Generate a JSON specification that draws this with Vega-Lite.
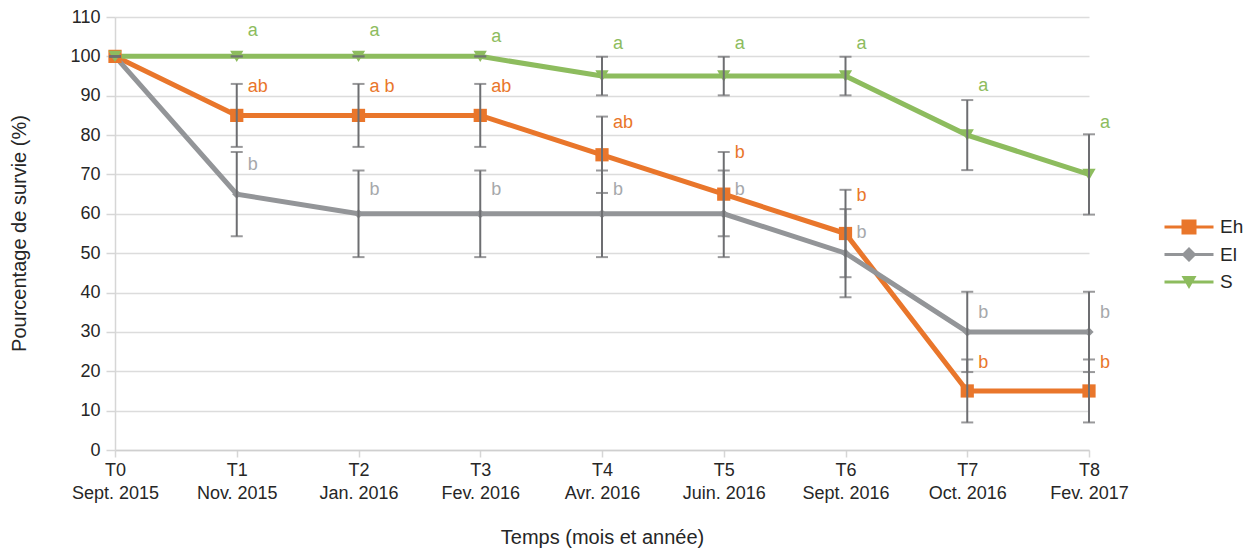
{
  "$schema": "https://vega.github.io/schema/vega-lite/v6.json",
  "width": 974,
  "height": 433,
  "autosize": {"type": "none"},
  "padding": {"left": 115, "top": 17, "right": 162, "bottom": 99},
  "background": "white",
  "config": {
    "view": {"stroke": null},
    "font": "Liberation Sans",
    "axis": {"labelFont": "Liberation Sans", "titleFont": "Liberation Sans", "labelOverlap": false},
    "axisY": {
      "labelFontSize": 18,
      "labelColor": "#262626",
      "labelPadding": 6,
      "tickSize": 9,
      "tickColor": "#d6d6d6",
      "tickWidth": 1.5,
      "domainColor": "#d6d6d6",
      "domainWidth": 1.5,
      "gridColor": "#dcdcdc",
      "gridWidth": 1.5,
      "titleFontSize": 20,
      "titleFontWeight": "normal",
      "titleColor": "#262626",
      "titleX": -96,
      "titleY": 216,
      "titleBaseline": "middle"
    }
  },
  "data": {
    "values": [
      {"t": "T0|Sept. 2015", "series": "Eh", "value": 100, "err": 0, "letter": "", "label_y": null},
      {"t": "T1|Nov. 2015", "series": "Eh", "value": 85, "err": 8, "letter": "ab", "label_y": 92.2},
      {"t": "T2|Jan. 2016", "series": "Eh", "value": 85, "err": 8, "letter": "a b", "label_y": 92.2},
      {"t": "T3|Fev. 2016", "series": "Eh", "value": 85, "err": 8, "letter": "ab", "label_y": 92.2},
      {"t": "T4|Avr. 2016", "series": "Eh", "value": 75, "err": 9.7, "letter": "ab", "label_y": 83.1},
      {"t": "T5|Juin. 2016", "series": "Eh", "value": 65, "err": 10.7, "letter": "b", "label_y": 75.5},
      {"t": "T6|Sept. 2016", "series": "Eh", "value": 55, "err": 11.1, "letter": "b", "label_y": 64.5},
      {"t": "T7|Oct. 2016", "series": "Eh", "value": 15, "err": 8, "letter": "b", "label_y": 22.1},
      {"t": "T8|Fev. 2017", "series": "Eh", "value": 15, "err": 8, "letter": "b", "label_y": 22.1},
      {"t": "T0|Sept. 2015", "series": "El", "value": 100, "err": 0, "letter": "", "label_y": null},
      {"t": "T1|Nov. 2015", "series": "El", "value": 65, "err": 10.7, "letter": "b", "label_y": 72.4},
      {"t": "T2|Jan. 2016", "series": "El", "value": 60, "err": 11, "letter": "b", "label_y": 66.1},
      {"t": "T3|Fev. 2016", "series": "El", "value": 60, "err": 11, "letter": "b", "label_y": 66.1},
      {"t": "T4|Avr. 2016", "series": "El", "value": 60, "err": 11, "letter": "b", "label_y": 66.1},
      {"t": "T5|Juin. 2016", "series": "El", "value": 60, "err": 11, "letter": "b", "label_y": 66.1},
      {"t": "T6|Sept. 2016", "series": "El", "value": 50, "err": 11.2, "letter": "b", "label_y": 55.1},
      {"t": "T7|Oct. 2016", "series": "El", "value": 30, "err": 10.2, "letter": "b", "label_y": 34.8},
      {"t": "T8|Fev. 2017", "series": "El", "value": 30, "err": 10.2, "letter": "b", "label_y": 34.8},
      {"t": "T0|Sept. 2015", "series": "S", "value": 100, "err": 0, "letter": "", "label_y": null},
      {"t": "T1|Nov. 2015", "series": "S", "value": 100, "err": 0, "letter": "a", "label_y": 106.5},
      {"t": "T2|Jan. 2016", "series": "S", "value": 100, "err": 0, "letter": "a", "label_y": 106.5},
      {"t": "T3|Fev. 2016", "series": "S", "value": 100, "err": 0, "letter": "a", "label_y": 104.9},
      {"t": "T4|Avr. 2016", "series": "S", "value": 95, "err": 4.9, "letter": "a", "label_y": 103.2},
      {"t": "T5|Juin. 2016", "series": "S", "value": 95, "err": 4.9, "letter": "a", "label_y": 103.2},
      {"t": "T6|Sept. 2016", "series": "S", "value": 95, "err": 4.9, "letter": "a", "label_y": 103.2},
      {"t": "T7|Oct. 2016", "series": "S", "value": 80, "err": 8.9, "letter": "a", "label_y": 92.5},
      {"t": "T8|Fev. 2017", "series": "S", "value": 70, "err": 10.2, "letter": "a", "label_y": 83.1}
    ]
  },
  "encoding": {
    "x": {
      "field": "t",
      "type": "nominal",
      "scale": {
        "type": "point",
        "padding": 0,
        "domain": ["T0|Sept. 2015", "T1|Nov. 2015", "T2|Jan. 2016", "T3|Fev. 2016", "T4|Avr. 2016", "T5|Juin. 2016", "T6|Sept. 2016", "T7|Oct. 2016", "T8|Fev. 2017"]
      },
      "axis": {
        "title": "Temps (mois et année)",
        "titleFontSize": 20,
        "titleFontWeight": "normal",
        "titleColor": "#262626",
        "titleX": 487,
        "titleY": 87,
        "titleBaseline": "middle",
        "labelExpr": "split(datum.label, '|')",
        "labelAngle": 0,
        "labelFontSize": 18,
        "labelColor": "#262626",
        "labelLineHeight": 23,
        "labelPadding": 4,
        "labelBaseline": "top",
        "tickSize": 7,
        "tickColor": "#d6d6d6",
        "tickWidth": 1.5,
        "domainColor": "#cfcfcf",
        "domainWidth": 1.5,
        "grid": false
      }
    }
  },
  "layer": [
    {
      "transform": [{"filter": "datum.t === 'T0|Sept. 2015'"}],
      "mark": {"type": "point", "filled": true, "opacity": 0},
      "encoding": {
        "y": {
          "field": "value",
          "type": "quantitative",
          "title": "Pourcentage de survie (%)",
          "scale": {"domain": [0, 110], "nice": false, "zero": true},
          "axis": {"values": [0, 10, 20, 30, 40, 50, 60, 70, 80, 90, 100, 110]}
        },
        "shape": {
          "field": "series",
          "type": "nominal",
          "scale": {
            "domain": ["Eh", "El", "S"],
            "range": [
              "M-2.45,-0.15H2.45V0.15H-2.45Z M-0.75,-0.75H0.75V0.75H-0.75Z",
              "M-2.45,-0.15H2.45V0.15H-2.45Z M0,-0.75L0.75,0L0,0.75L-0.75,0Z",
              "M-2.45,-0.15H2.45V0.15H-2.45Z M-0.75,-0.6L0.75,-0.6L0,0.7Z"
            ]
          },
          "legend": {
            "title": null,
            "orient": "none",
            "legendX": 1064,
            "legendY": 200,
            "padding": 0,
            "symbolSize": 400,
            "symbolStrokeWidth": 0,
            "symbolOpacity": 1,
            "labelFontSize": 19,
            "labelFont": "Liberation Sans",
            "labelColor": "#262626",
            "labelOffset": 21,
            "rowPadding": 7.5
          }
        },
        "color": {
          "field": "series",
          "type": "nominal",
          "scale": {"domain": ["Eh", "El", "S"], "range": ["#E9762B", "#939598", "#8DBC5E"]},
          "legend": {
            "title": null,
            "orient": "none",
            "legendX": 1064,
            "legendY": 200,
            "padding": 0,
            "symbolSize": 400,
            "symbolStrokeWidth": 0,
            "symbolOpacity": 1,
            "labelFontSize": 19,
            "labelFont": "Liberation Sans",
            "labelColor": "#262626",
            "labelOffset": 21,
            "rowPadding": 7.5
          }
        }
      }
    },
    {
      "mark": {"type": "line", "strokeWidth": 5},
      "encoding": {
        "y": {"field": "value", "type": "quantitative", "title": "Pourcentage de survie (%)", "axis": {"values": [0, 10, 20, 30, 40, 50, 60, 70, 80, 90, 100, 110]}},
        "color": {"field": "series", "type": "nominal", "legend": null}
      }
    },
    {
      "transform": [{"filter": "datum.series === 'Eh'"}],
      "mark": {"type": "point", "shape": "square", "filled": true, "opacity": 1, "size": 175},
      "encoding": {
        "y": {"field": "value", "type": "quantitative", "title": "Pourcentage de survie (%)", "axis": {"values": [0, 10, 20, 30, 40, 50, 60, 70, 80, 90, 100, 110]}},
        "color": {"field": "series", "type": "nominal", "legend": null}
      }
    },
    {
      "transform": [{"filter": "datum.series === 'El'"}],
      "mark": {"type": "point", "shape": "diamond", "filled": true, "opacity": 1, "size": 85},
      "encoding": {
        "y": {"field": "value", "type": "quantitative", "title": "Pourcentage de survie (%)", "axis": {"values": [0, 10, 20, 30, 40, 50, 60, 70, 80, 90, 100, 110]}},
        "color": {"field": "series", "type": "nominal", "legend": null}
      }
    },
    {
      "transform": [{"filter": "datum.series === 'S'"}],
      "mark": {"type": "point", "shape": "triangle-down", "filled": true, "opacity": 1, "size": 175},
      "encoding": {
        "y": {"field": "value", "type": "quantitative", "title": "Pourcentage de survie (%)", "axis": {"values": [0, 10, 20, 30, 40, 50, 60, 70, 80, 90, 100, 110]}},
        "color": {"field": "series", "type": "nominal", "legend": null}
      }
    },
    {
      "mark": {
        "type": "errorbar",
        "color": "#6D6E71",
        "ticks": {"size": 12, "thickness": 2, "color": "#6D6E71"},
        "rule": {"strokeWidth": 2, "color": "#6D6E71"}
      },
      "encoding": {
        "y": {"field": "value", "type": "quantitative", "title": "Pourcentage de survie (%)", "axis": {"values": [0, 10, 20, 30, 40, 50, 60, 70, 80, 90, 100, 110]}},
        "yError": {"field": "err"}
      }
    },
    {
      "mark": {"type": "text", "align": "left", "baseline": "middle", "dx": 11, "fontSize": 18, "font": "Liberation Sans"},
      "encoding": {
        "y": {"field": "label_y", "type": "quantitative", "title": "Pourcentage de survie (%)", "axis": {"values": [0, 10, 20, 30, 40, 50, 60, 70, 80, 90, 100, 110]}},
        "text": {"field": "letter"},
        "color": {
          "condition": {"test": "datum.series === 'El'", "value": "#A6A8AB"},
          "field": "series",
          "type": "nominal",
          "legend": null
        }
      }
    }
  ]
}
